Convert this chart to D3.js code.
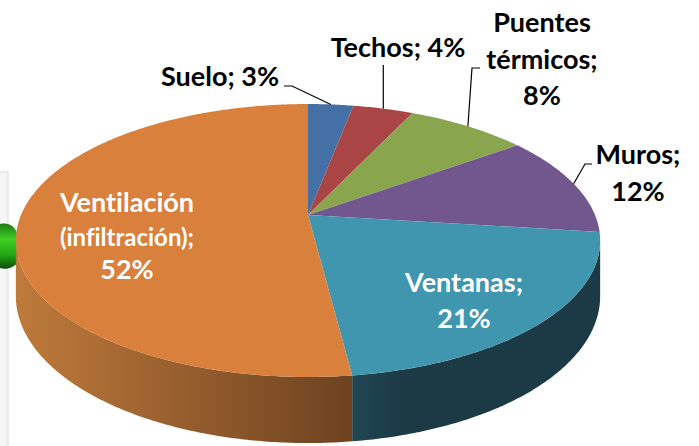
<!DOCTYPE html>
<html>
<head>
<meta charset="utf-8">
<script src="https://cdn.jsdelivr.net/npm/d3@7"></script>
<style>
  html, body { margin: 0; padding: 0; background: #fff; }
  svg { display: block; }
  text { font-family: Lato, "Open Sans", sans-serif; font-weight: 700; font-variant-ligatures: none; font-feature-settings: "liga" 0, "clig" 0; }
</style>
</head>
<body>
<div id="chart"></div>
<script>
// slice data, clockwise from 12 o'clock
const categories = ["Suelo", "Techos", "Puentes térmicos", "Muros", "Ventanas", "Ventilación (infiltración)"];
const values = [3, 4, 8, 12, 21, 52];
const labelLines = [
  ["Suelo; 3%"],
  ["Techos; 4%"],
  ["Puentes", "térmicos;", "8%"],
  ["Muros;", "12%"],
  ["Ventanas;", "21%"],
  ["Ventilación", "(infiltración);", "52%"]
];

const topColors = ["#4570a5", "#a94544", "#89a54e", "#72578f", "#4096ae", "#d9803c"];
const sideColors = [["#2b4a70", "#223b5a"], ["#703030", "#5a2626"], ["#5c7034", "#4a5a2a"],
  ["#4c3b60", "#3d2f4d"], ["#214654", "#1b3a46"], ["#bf7a3b", "#6d4220"]];

// label placement (centre x, first baseline y, line step, colour, leader elbow)
const labelLayout = [
  { x: 220, y: 86, step: 0, fill: "#000", lead: [[284, 86], [292, 86]] },
  { x: 398, y: 57, step: 0, fill: "#000", lead: [[380, 65]] },
  { x: 542, y: 32, step: 36.5, fill: "#000", lead: [[480, 68], [472, 68]] },
  { x: 638, y: 164, step: 37, fill: "#000", lead: [[592, 164], [585, 164]] },
  { x: 464, y: 292, step: 36, fill: "#fff", lead: null },
  { x: 127, y: 212, step: 33.5, fill: "#fff", lead: null }
];

const width = 699, height = 446;
const cx = 308, cy = 215, rx = 287, ry = 131.7, k = 0.187, depth = 53.7;

// perspective of a tilted disc: d = depth toward the back
function proj(theta, r, h) {
  const x = r * Math.sin(theta), d = r * Math.cos(theta);
  const w = 1 + k * d;
  return [cx + rx * x / w, cy - ry * d / w + depth * h / w];
}

function rim(a0, a1, h) {
  const n = Math.max(2, Math.ceil((a1 - a0) / 0.01));
  return d3.range(n + 1).map(i => proj(a0 + (a1 - a0) * i / n, 1, h));
}

const svg = d3.select("#chart").append("svg")
  .attr("width", width)
  .attr("height", height);

const defs = svg.append("defs");

// piece of a neighbouring picture on the left edge
const gGreen = defs.append("linearGradient").attr("id", "green")
  .attr("x1", 0).attr("y1", 0).attr("x2", 0).attr("y2", 1);
gGreen.append("stop").attr("offset", "0%").attr("stop-color", "#1d7a12");
gGreen.append("stop").attr("offset", "35%").attr("stop-color", "#3fcf25");
gGreen.append("stop").attr("offset", "70%").attr("stop-color", "#22a514");
gGreen.append("stop").attr("offset", "100%").attr("stop-color", "#0e4d08");
svg.append("rect")
  .attr("x", -2).attr("y", 172).attr("width", 10).attr("height", 280)
  .attr("fill", "#f6f6f6").attr("stroke", "#dcdcdc");
svg.append("path")
  .attr("d", "M0,224 C8,222 16,226 18,236 L18,262 C14,268 6,270 0,268 Z")
  .attr("fill", "url(#green)");

const pie = d3.pie().sort(null).value(d => d)(values);

const lo = Math.acos(-k), hi = 2 * Math.PI - lo;

// sides
const sides = svg.append("g");
pie.forEach((p, i) => {
  const a0 = Math.max(p.startAngle, lo), a1 = Math.min(p.endAngle, hi);
  if (a1 <= a0) return;
  const top = rim(a0, a1, 0), bot = rim(a0, a1, 1).reverse();
  const gid = "side" + i;
  const g = defs.append("linearGradient").attr("id", gid)
    .attr("gradientUnits", "userSpaceOnUse")
    .attr("x1", d3.min(top, q => q[0])).attr("x2", d3.max(top, q => q[0]))
    .attr("y1", 0).attr("y2", 0);
  const cs = sideColors[i];
  g.append("stop").attr("offset", "0%").attr("stop-color", cs[0]);
  g.append("stop").attr("offset", i === 4 ? "20%" : "100%").attr("stop-color", cs[1]);
  sides.append("path")
    .attr("d", d3.line()(top.concat(bot)) + "Z")
    .attr("fill", "url(#" + gid + ")");
});

// top faces
const tops = svg.append("g");
pie.forEach((p, i) => {
  const pts = [proj(0, 0, 0)].concat(rim(p.startAngle, p.endAngle, 0));
  tops.append("path")
    .attr("d", d3.line()(pts) + "Z")
    .attr("fill", topColors[i]);
});

// leader lines
const leads = svg.append("g");
pie.forEach((p, i) => {
  const L = labelLayout[i];
  if (!L.lead) return;
  const mid = proj((p.startAngle + p.endAngle) / 2, 1, 0);
  const pts = L.lead.map(q => q.slice());
  if (pts.length === 1) pts[0][0] = mid[0];
  pts.push(mid);
  leads.append("path")
    .attr("d", d3.line()(pts))
    .attr("fill", "none")
    .attr("stroke", "#000")
    .attr("stroke-width", 1.2);
});

// labels
const labels = svg.append("g");
labelLines.forEach((lines, i) => {
  const L = labelLayout[i];
  const t = labels.append("text")
    .attr("text-anchor", "middle")
    .attr("fill", L.fill);
  lines.forEach((s, j) => {
    t.append("tspan")
      .attr("x", L.x)
      .attr("y", L.y + j * L.step)
      .style("font-size", s.startsWith("(") ? "24px" : "27px")
      .text(s);
  });
});
</script>
</body>
</html>
